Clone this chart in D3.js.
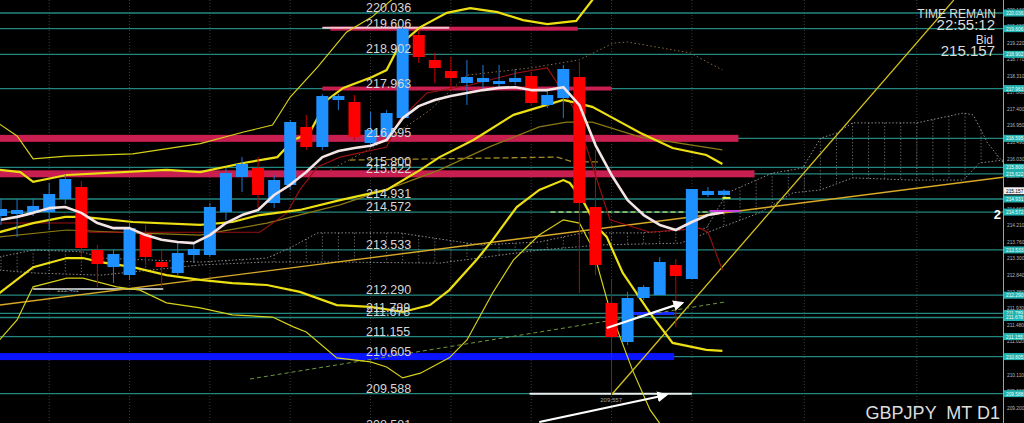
<!DOCTYPE html>
<html>
<head>
<meta charset="utf-8">
<script src="https://cdn.jsdelivr.net/npm/d3@7/dist/d3.min.js"></script>
<style>
  html, body { margin: 0; padding: 0; background: #000; overflow: hidden; }
  svg { display: block; }
</style>
</head>
<body>
<svg id="chart"></svg>
<script>
// GBPJPY daily, last 46 bars (index 0 = left edge)
const opens  = [214.464,214.519,214.546,214.574,214.930,215.260,213.530,213.064,212.844,213.970,213.201,212.899,213.393,213.393,214.574,215.534,215.782,214.821,215.315,216.907,216.358,217.648,217.593,216.468,216.632,217.154,219.432,218.746,218.444,218.115,218.142,218.087,218.142,218.307,217.511,217.703,218.279,214.711,212.076,211.005,212.213,212.295,213.119,212.734,215.040,215.040]
const highs  = [214.930,214.930,214.930,215.370,215.589,215.425,213.668,213.530,214.299,214.217,213.530,213.723,213.723,214.821,215.782,216.083,216.083,215.589,217.099,217.236,217.813,217.813,217.785,217.319,217.374,219.650,219.570,218.938,218.828,218.746,218.609,218.609,218.499,218.417,217.977,218.609,218.691,216.276,212.707,212.378,212.570,213.338,213.283,215.205,215.260,215.200]
const lows   = [214.217,213.887,214.464,214.080,214.793,213.338,212.515,212.625,212.707,213.119,212.515,212.844,213.201,213.338,214.354,215.123,214.683,214.683,215.178,216.276,216.276,217.374,216.550,216.413,216.550,217.099,218.664,218.115,217.923,217.511,217.923,217.977,218.060,217.511,217.429,217.154,212.350,212.844,209.557,210.923,212.158,212.295,211.417,212.734,214.985,214.985]
const closes = [214.656,214.629,214.738,215.068,215.480,213.585,213.146,213.421,214.135,213.338,213.064,213.448,213.558,214.711,215.644,215.891,215.040,215.452,217.044,216.358,217.758,217.758,216.632,216.825,217.291,219.606,218.828,218.526,218.252,218.279,218.252,218.170,218.252,217.566,217.785,218.499,214.821,213.119,211.143,212.213,212.515,213.201,212.817,215.205,215.150,215.157]

// short moving average (white)
const fastMA = [214.36,214.44,214.55,214.68,214.71,214.55,214.27,214.13,214.13,213.94,213.81,213.75,213.72,213.94,214.27,214.49,214.63,215.04,215.32,215.67,216.08,216.25,216.33,216.39,216.55,217.15,217.48,217.65,217.76,217.84,217.92,217.98,218.00,217.92,217.92,218.00,217.51,216.41,215.59,214.90,214.49,214.22,214.08,214.30,214.49,214.57]

// bollinger style bands, [bar index, price]
const upper3 = [[-0.1,216.99],[1.0,216.66],[2.0,216.03],[4.1,216.11],[8.2,216.17],[12.4,216.45],[15.1,216.77],[16.9,216.96],[18.0,217.73],[19.7,218.55],[21.5,219.51],[23.1,219.93],[24.3,220.39],[25.5,220.94]]
const upper2 = [[-0.1,215.73],[1.2,215.67],[2.0,215.40],[4.1,215.59],[10.3,215.73],[12.4,215.67],[15.1,215.92],[17.2,216.08],[18.2,216.55],[19.2,216.74],[20.3,217.65],[21.3,217.98],[23.1,218.28],[24.0,218.47],[24.8,219.16],[26.1,219.65],[27.75,220.04],[29.2,220.17],[30.9,220.06],[32.5,219.84],[34.0,219.73],[35.8,219.82],[36.8,220.39],[37.6,220.94]]
const middle = [[-0.1,214.02],[2.0,214.27],[4.0,214.44],[5.1,214.44],[8.2,214.30],[12.4,214.22],[14.4,214.30],[16.1,214.49],[18.6,214.63],[21.1,214.90],[24.0,215.18],[26.1,215.73],[27.3,216.08],[29.4,216.55],[31.9,217.24],[35.0,217.65],[35.6,217.59],[36.8,217.46],[38.1,217.15],[39.8,216.74],[41.8,216.33],[43.9,216.14],[44.9,215.89]]
const lower2 = [[-0.1,212.35],[2.0,213.06],[4.1,213.31],[5.1,213.31],[6.2,213.20],[8.2,213.06],[10.3,212.84],[12.4,212.71],[14.4,212.62],[16.55,212.57],[18.6,212.38],[20.9,212.02],[23.0,211.97],[25.0,211.83],[26.7,212.02],[27.9,212.43],[29.6,213.26],[30.6,213.81],[32.1,214.71],[33.5,215.18],[35.0,215.45],[35.4,215.37],[36.2,214.90],[37.1,214.16],[37.7,213.89],[38.7,212.90],[40.4,211.80],[41.8,210.98],[43.9,210.79],[44.9,210.76]]
const lower3 = [[-0.1,211.06],[1.0,211.61],[2.0,212.52],[4.1,212.76],[5.1,212.76],[7.2,212.52],[8.65,212.43],[10.3,212.08],[12.4,211.94],[14.4,211.75],[16.9,211.69],[18.2,211.42],[19.0,211.28],[20.9,210.57],[23.0,210.46],[24.0,210.32],[25.0,210.02],[26.1,210.15],[27.9,210.57],[29.0,211.06],[30.6,212.35],[31.9,213.26],[33.5,213.94],[35.0,214.36],[36.0,214.27],[36.8,213.61],[37.9,211.88],[39.3,210.24],[40.4,209.14],[41.3,208.59]]
const slowMA = [[-0.1,213.89],[4.1,214.08],[8.2,214.00],[12.4,213.94],[16.55,214.27],[21.1,214.77],[24.8,215.32],[27.3,215.73],[30.4,216.36],[33.5,216.91],[35.2,217.04],[36.8,217.04],[39.8,216.63],[44.9,216.28]]
const kijun = [[-0.1,214.27],[5.0,214.27],[5.5,214.02],[12.6,214.02],[16.1,214.02],[17.8,214.55],[18.6,215.18],[19.7,215.81],[21.1,216.08],[24.0,216.36],[24.8,217.10],[26.5,217.84],[29.2,218.06],[32.1,218.39],[34.0,218.53],[35.6,217.46],[36.7,216.00],[37.9,214.36],[40.4,214.02],[43.5,214.13],[44.0,214.02],[44.9,212.98]]
const envelope = [[20.5,215.73],[24.0,216.55],[26.7,217.37],[29.0,218.33],[33.0,218.53],[36.0,218.75],[38.1,219.21],[39.0,219.24],[42.9,218.94],[44.9,218.47]]
const kijunDash = [[21.7,216.00],[34.6,216.08],[35.6,215.95],[37.3,215.95]]

// ichimoku cloud spans (extend into the future)
const spanA = [[-0.1,213.34],[2.0,213.53],[5.1,213.48],[6.2,213.31],[12.4,213.20],[16.55,213.31],[18.0,213.59],[19.7,214.00],[21.1,214.00],[24.8,214.00],[29.8,213.67],[33.5,213.75],[36.2,214.00],[39.8,214.00],[43.9,214.13],[45.2,215.10],[48.0,215.64],[49.9,215.78],[51.0,216.60],[52.0,216.74],[53.0,217.02],[57.0,217.02],[59.9,217.29],[60.5,217.24],[60.9,216.91],[61.4,216.47],[62.4,215.92]]
const spanB = [[-0.1,212.98],[2.0,212.90],[6.2,212.84],[12.4,213.12],[16.55,213.20],[21.1,213.20],[27.3,213.17],[33.5,213.53],[37.3,213.67],[42.3,213.72],[43.9,214.00],[47.2,214.55],[49.3,215.10],[51.0,215.18],[53.0,215.51],[56.8,215.45],[59.9,215.45],[60.9,215.92],[62.4,216.00]]

// horizontal levels and their labels
const levelPrices = [220.036,219.606,218.902,217.963,216.595,215.800,215.622,214.931,214.572,213.533,212.290,211.789,211.678,211.155,210.605,209.588,208.581]
const resistZones = [[219.606,20.5,35.9],[217.963,20.0,38.0],[216.595,-0.1,45.9],[215.622,-0.1,46.9]]
const supportZone = [210.605,-0.1,41.9]
const supportShort = [211.789,39.3,41.9]
const whiteLevels = [[209.588,32.9,43.0],[212.461,2.0,10.1],[219.630,20.0,27.9]]
const dashGreen = [214.572,34.2,44.9]
const magentaLevel = [214.60,44.1,46.0]
const limeLevel = [214.96,44.9,45.4]

// trend lines and arrows, [index, price] pairs
const trendLines = [[[-0.1,212.02],[62.4,215.53]]]
const steepLine = [[38.0,209.557],[59.3,220.39]]
const dashTrend = [[15.5,209.99],[45.0,212.10]]
const arrows = [[[37.7,211.39],[42.4,212.08]],[[33.5,208.81],[41.4,209.55]]]

const gridIdx = [3,8,13,18,23,28,33,38,43,50,57]
const axisTicks = [220.130,219.680,219.220,218.770,218.310,217.860,217.400,216.950,216.490,216.030,215.570,215.120,214.660,214.210,213.760,213.300,212.840,212.380,211.930,211.480,211.020,210.570,210.110,209.660,209.200]
const bidPrice = 215.157
const timeRemain = '22:55:12'
const symbolText = 'GBPJPY  MT D1'
const tinyLabels = [[3.5,212.461,'212.461'],[37.3,209.45,'209.557']]

const width = 1024, height = 423, plotRight = 1003

const svg = d3.select('#chart').attr('width', width).attr('height', height)
svg.append('rect').attr('width', width).attr('height', height).attr('fill', '#000')

const x = d3.scaleLinear().domain([0, 45]).range([1, 724])
const y = d3.scaleLinear().domain([208.782, 220.393]).range([height, 0])

const defs = svg.append('defs')
defs.append('clipPath').attr('id', 'plot')
  .append('rect').attr('width', plotRight).attr('height', height)
defs.append('marker').attr('id', 'arrowHead').attr('viewBox', '0 0 10 10')
  .attr('refX', 8).attr('refY', 5).attr('markerWidth', 5).attr('markerHeight', 5)
  .attr('orient', 'auto')
  .append('path').attr('d', 'M0,0L10,5L0,10z').attr('fill', '#fff')

const g = svg.append('g').attr('clip-path', 'url(#plot)')
const line = d3.line().x((d) => x(d[0])).y((d) => y(d[1]))

function interp(pairs, t) {
  for (let i = 1; i < pairs.length; i++) {
    if (t <= pairs[i][0]) {
      const a = pairs[i - 1], b = pairs[i]
      return a[1] + (b[1] - a[1]) * (t - a[0]) / (b[0] - a[0])
    }
  }
  return pairs[pairs.length - 1][1]
}

// vertical grid
g.append('g').selectAll('line').data(gridIdx).join('line')
  .attr('x1', (d) => x(d)).attr('x2', (d) => x(d))
  .attr('y1', 0).attr('y2', height)
  .attr('stroke', '#3c3c3c').attr('stroke-dasharray', '1,2')

// teal level lines
g.append('g').selectAll('line').data(levelPrices).join('line')
  .attr('x1', 0).attr('x2', plotRight)
  .attr('y1', (d) => y(d)).attr('y2', (d) => y(d))
  .attr('stroke', '#23877f').attr('stroke-width', 1.3)

// resistance zones (crimson) and support zone (blue)
const zoneThick = [4, 4, 7, 7]
g.append('g').selectAll('rect').data(resistZones).join('rect')
  .attr('x', (d) => x(d[1])).attr('width', (d) => x(d[2]) - x(d[1]))
  .attr('y', (d, i) => y(d[0]) - zoneThick[i] / 2).attr('height', (d, i) => zoneThick[i])
  .attr('fill', '#c81e50')
g.append('rect')
  .attr('x', x(supportZone[1])).attr('width', x(supportZone[2]) - x(supportZone[1]))
  .attr('y', y(supportZone[0]) - 3.5).attr('height', 7).attr('fill', '#0a14ff')
g.append('rect')
  .attr('x', x(supportShort[1])).attr('width', x(supportShort[2]) - x(supportShort[1]))
  .attr('y', y(supportShort[0]) - 1.5).attr('height', 3).attr('fill', '#1a2cff')
g.append('g').selectAll('line').data(whiteLevels).join('line')
  .attr('x1', (d) => x(d[1])).attr('x2', (d) => x(d[2]))
  .attr('y1', (d) => y(d[0])).attr('y2', (d) => y(d[0]))
  .attr('stroke', (d, i) => (i === 2 ? '#f4c8d0' : '#e8f0f0')).attr('stroke-width', (d, i) => (i === 1 ? 1.5 : 2))

// ichimoku cloud
const hatch = d3.range(0, 63)
g.append('g').selectAll('line').data(hatch).join('line')
  .attr('x1', (d) => x(d)).attr('x2', (d) => x(d))
  .attr('y1', (d) => y(interp(spanA, d))).attr('y2', (d) => y(interp(spanB, d)))
  .attr('stroke', '#8a8a8a').attr('stroke-width', 0.8).attr('stroke-dasharray', '1.2,2')
for (const span of [spanA, spanB]) {
  g.append('path').attr('d', line(span)).attr('fill', 'none')
    .attr('stroke', '#9a9a9a').attr('stroke-width', 0.9).attr('stroke-dasharray', '1.5,2')
}
g.append('path').attr('d', line(envelope)).attr('fill', 'none')
  .attr('stroke', '#8a6a40').attr('stroke-width', 1).attr('stroke-dasharray', '1.5,2.5')

// trend lines
for (const t of trendLines) {
  g.append('path').attr('d', line(t)).attr('stroke', '#d9a928').attr('stroke-width', 1.4).attr('fill', 'none')
}
g.append('path').attr('d', line(steepLine)).attr('stroke', '#d4c21a').attr('stroke-width', 1.3).attr('fill', 'none')
g.append('path').attr('d', line(dashTrend)).attr('stroke', '#6d9a3a').attr('stroke-width', 1)
  .attr('stroke-dasharray', '4,3').attr('fill', 'none')
g.append('line').attr('x1', x(dashGreen[1])).attr('x2', x(dashGreen[2]))
  .attr('y1', y(dashGreen[0])).attr('y2', y(dashGreen[0]))
  .attr('stroke', '#a8d070').attr('stroke-width', 1.5).attr('stroke-dasharray', '5,3')
g.append('path').attr('d', line(kijunDash)).attr('stroke', '#a08a20').attr('stroke-width', 1.3)
  .attr('stroke-dasharray', '6,3').attr('fill', 'none')

// indicator lines
g.append('path').attr('d', line(slowMA)).attr('fill', 'none').attr('stroke', '#8c7a12').attr('stroke-width', 1.2)
g.append('path').attr('d', line(kijun)).attr('fill', 'none').attr('stroke', '#9c1010').attr('stroke-width', 1.1)
for (const band of [upper3, lower3]) {
  g.append('path').attr('d', line(band)).attr('fill', 'none').attr('stroke', '#d6d018').attr('stroke-width', 1.2)
}
for (const band of [upper2, middle, lower2]) {
  g.append('path').attr('d', line(band)).attr('fill', 'none').attr('stroke', '#ecdf12').attr('stroke-width', 2.2)
}

// candles
const bars = opens.map((o, i) => ({ i, o, h: highs[i], l: lows[i], c: closes[i] }))
const colorOf = (d) => (d.c >= d.o ? '#1e90ff' : '#ff0000')
const candle = g.append('g').selectAll('g').data(bars).join('g')
candle.append('line')
  .attr('x1', (d) => x(d.i)).attr('x2', (d) => x(d.i))
  .attr('y1', (d) => y(d.h)).attr('y2', (d) => y(d.l))
  .attr('stroke', (d) => (d.c >= d.o ? '#1e78d0' : '#c00000')).attr('stroke-width', 1)
candle.append('rect')
  .attr('x', (d) => x(d.i) - 6).attr('width', 12)
  .attr('y', (d) => y(Math.max(d.o, d.c)))
  .attr('height', (d) => Math.max(2, Math.abs(y(d.o) - y(d.c))))
  .attr('fill', colorOf)

g.append('path').attr('d', line(fastMA.map((v, i) => [i, v]))).attr('fill', 'none')
  .attr('stroke', '#f4e4e4').attr('stroke-width', 2.6).attr('stroke-linejoin', 'round')

g.append('line').attr('x1', x(magentaLevel[1])).attr('x2', x(magentaLevel[2]))
  .attr('y1', y(magentaLevel[0])).attr('y2', y(magentaLevel[0]))
  .attr('stroke', '#d040e0').attr('stroke-width', 2)
g.append('line').attr('x1', x(limeLevel[1])).attr('x2', x(limeLevel[2]))
  .attr('y1', y(limeLevel[0])).attr('y2', y(limeLevel[0]))
  .attr('stroke', '#e8f040').attr('stroke-width', 2)

// arrows
g.append('g').selectAll('line').data(arrows).join('line')
  .attr('x1', (d) => x(d[0][0])).attr('y1', (d) => y(d[0][1]))
  .attr('x2', (d) => x(d[1][0])).attr('y2', (d) => y(d[1][1]))
  .attr('stroke', '#fff').attr('stroke-width', 2.2).attr('marker-end', 'url(#arrowHead)')

// level labels
g.append('g').attr('font-family', 'Liberation Sans, Arial, sans-serif').attr('font-size', 12.5)
  .selectAll('text').data(levelPrices).join('text')
  .attr('x', 366).attr('y', (d) => y(d) - 1)
  .attr('fill', '#d6d6d6').text((d) => d.toFixed(3))
g.append('g').attr('font-family', 'Liberation Sans, Arial, sans-serif').attr('font-size', 6)
  .selectAll('text').data(tinyLabels).join('text')
  .attr('x', (d) => x(d[0])).attr('y', (d) => y(d[1]) + 3)
  .attr('fill', '#a0a0a0').text((d) => d[2])

// right axis
svg.append('line').attr('x1', plotRight + 0.5).attr('x2', plotRight + 0.5).attr('y1', 0).attr('y2', height)
  .attr('stroke', '#a0a0a0').attr('stroke-width', 1)
const axis = svg.append('g').attr('font-family', 'Liberation Sans, Arial, sans-serif').attr('font-size', 4.8)
axis.selectAll('text.tick').data(axisTicks).join('text').attr('class', 'tick')
  .attr('x', plotRight + 4).attr('y', (d) => y(d) + 2).attr('fill', '#b8b8b8').text((d) => d.toFixed(3))
const tags = axis.selectAll('g.tag').data(levelPrices.filter((d) => y(d) < height - 4)).join('g').attr('class', 'tag')
tags.append('rect').attr('x', plotRight + 1).attr('y', (d) => y(d) - 3.5).attr('width', 20).attr('height', 7).attr('fill', '#22b2b0')
tags.append('text').attr('x', plotRight + 3).attr('y', (d) => y(d) + 2).attr('fill', '#e8ffff').text((d) => d.toFixed(3))
axis.append('rect').attr('x', plotRight + 1).attr('y', y(bidPrice) - 3.5).attr('width', 20).attr('height', 7).attr('fill', '#f0f0f0')
axis.append('text').attr('x', plotRight + 3).attr('y', y(bidPrice) + 2).attr('fill', '#000').text(bidPrice.toFixed(3))

// corner texts
const info = svg.append('g').attr('font-family', 'Liberation Sans, Arial, sans-serif').attr('fill', '#dcdcdc').attr('text-anchor', 'end')
info.append('text').attr('x', 996).attr('y', 18).attr('font-size', 12).text('TIME REMAIN')
info.append('text').attr('x', 995).attr('y', 30).attr('font-size', 15).text(timeRemain)
info.append('text').attr('x', 993).attr('y', 44).attr('font-size', 12).text('Bid')
info.append('text').attr('x', 995).attr('y', 56).attr('font-size', 15).text(bidPrice.toFixed(3))
info.append('text').attr('x', 1001).attr('y', 219).attr('font-size', 13).attr('font-weight', 'bold').attr('fill', '#fff').text('2')
info.append('text').attr('x', 1000).attr('y', 419).attr('font-size', 18).style('white-space', 'pre').text(symbolText)
</script>
</body>
</html>
